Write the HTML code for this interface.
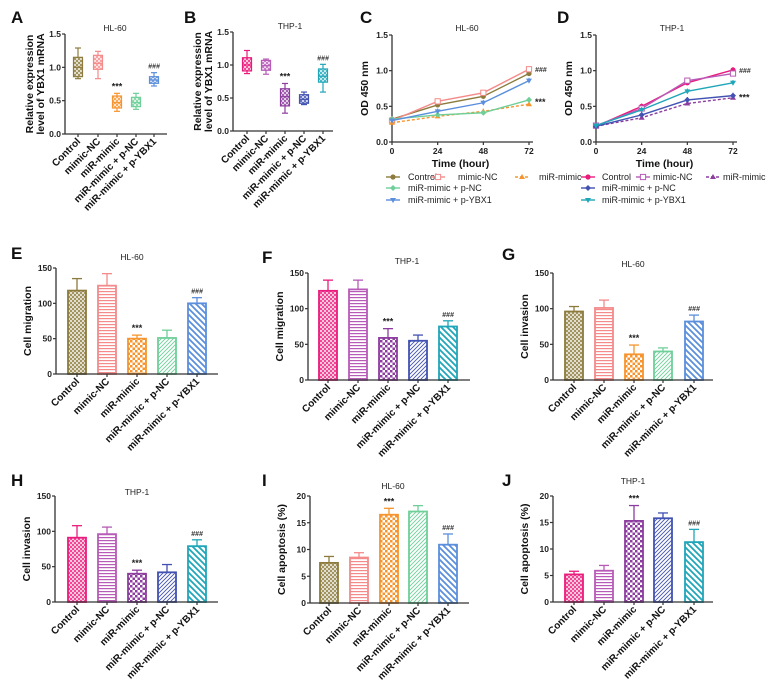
<!DOCTYPE html>
<html><head><meta charset="utf-8">
<style>
html,body{margin:0;padding:0;background:#fff;}
svg{display:block;font-family:"Liberation Sans",Arial,sans-serif;}
</style></head>
<body>
<svg id="fig" width="775" height="694" viewBox="0 0 775 694" xmlns="http://www.w3.org/2000/svg">
<defs id="defs"></defs>
</svg>
<script>
// ---------- data ----------
const categories = ["Control","mimic-NC","miR-mimic","miR-mimic + p-NC","miR-mimic + p-YBX1"];
const hlColors = ["#8c7b3c","#f48a8a","#f6952f","#6fcf99","#5b8fdc"];
const thpColors = ["#ea1b7c","#b75ab8","#8d3d9f","#4252b2","#20a6b9"];
const patternTypes = ["dots","hlines","checker","fdiag","bdiag"];

// box plots [min,q1,median,q3,max]
const boxA = [[0.83,0.86,1.0,1.15,1.29],[0.83,0.97,1.06,1.18,1.24],[0.34,0.39,0.47,0.57,0.61],[0.37,0.41,0.47,0.55,0.61],[0.72,0.76,0.81,0.86,0.92]];
const boxB = [[0.87,0.91,1.0,1.11,1.22],[0.86,0.92,0.99,1.07,1.09],[0.27,0.38,0.52,0.64,0.72],[0.40,0.42,0.48,0.55,0.59],[0.59,0.74,0.83,0.94,1.01]];
const boxTicks = [0,0.5,1.0,1.5];

// growth curves
const timePoints = [0,24,48,72];
const odTicks = [0,0.5,1.0,1.5];
const curveC = [[0.32,0.52,0.64,0.96],[0.30,0.57,0.69,1.02],[0.27,0.36,0.43,0.53],[0.32,0.38,0.41,0.59],[0.30,0.43,0.55,0.86]];
const curveD = [[0.22,0.50,0.83,1.01],[0.23,0.47,0.86,0.96],[0.22,0.34,0.54,0.62],[0.22,0.38,0.59,0.65],[0.23,0.45,0.71,0.83]];

// bar charts
const migE = [118,125,50,51,100], migEErr = [135,142,55,62,108];
const migF = [125,127,59,55,75], migFErr = [140,140,72,63,83];
const invG = [96,101,36,40,82], invGErr = [103,112,49,45,91];
const invH = [91,96,40,42,79], invHErr = [108,106,45,53,88];
const apoI = [7.5,8.5,16.5,17.1,10.9], apoIErr = [8.7,9.4,17.7,18.2,12.9];
const apoJ = [5.2,5.9,15.3,15.8,11.3], apoJErr = [5.8,6.9,18.2,16.8,13.7];
const countTicks = [0,50,100,150];
const pctTicks = [0,5,10,15,20];

// ---------- helpers ----------
const NS="http://www.w3.org/2000/svg";
const svg=document.getElementById('fig');
const defs=document.getElementById('defs');
function mk(tag,attrs,parent){const e=document.createElementNS(NS,tag);for(const k in attrs)e.setAttribute(k,attrs[k]);(parent||svg).appendChild(e);return e;}
function txt(s,attrs,parent){const e=mk('text',attrs,parent);e.textContent=s;return e;}

function makePattern(id,type,color){
  const p=mk('pattern',{id:id,patternUnits:'userSpaceOnUse',width:4,height:4},defs);
  mk('rect',{x:0,y:0,width:4,height:4,fill:'#fff'},p);
  if(type==='dots'){mk('rect',{x:0,y:0,width:2,height:2,fill:color,opacity:0.75},p);mk('rect',{x:2,y:2,width:2,height:2,fill:color,opacity:0.75},p);mk('rect',{x:0,y:0,width:4,height:4,fill:color,opacity:0.25},p);}
  if(type==='hlines'){p.setAttribute('height',3);mk('rect',{x:0,y:0,width:4,height:1.2,fill:color},p);}
  if(type==='checker'){p.setAttribute('width',5);p.setAttribute('height',5);mk('rect',{x:0,y:0,width:2.5,height:2.5,fill:color},p);mk('rect',{x:2.5,y:2.5,width:2.5,height:2.5,fill:color},p);}
  if(type==='fdiag'){mk('path',{d:'M-1,1 l2,-2 M0,4 l4,-4 M3,5 l2,-2',stroke:color,'stroke-width':0.9},p);}
  if(type==='bdiag'){p.setAttribute('width',6);p.setAttribute('height',6);mk('path',{d:'M-1,5 l2,2 M0,0 l6,6 M5,-1 l2,2',stroke:color,'stroke-width':1.8},p);}
}
hlColors.forEach((c,i)=>makePattern('hl'+i,patternTypes[i],c));
thpColors.forEach((c,i)=>makePattern('thp'+i,patternTypes[i],c));
hlColors.forEach((c,i)=>makePattern('hlb'+i,'dots',c));
thpColors.forEach((c,i)=>makePattern('thpb'+i,'dots',c));

function panelLetter(s,x,y){const t=txt(s,{x:x,y:y,'font-size':17,'font-weight':'bold',fill:'#111'});}

function yAxis(g,ax,yScale,ticks,fmt,top,bottom,label,labelX,labelLines){
  mk('line',{x1:ax,y1:top,x2:ax,y2:bottom,stroke:'#333','stroke-width':1.3},g);
  ticks.forEach(t=>{const y=yScale(t);mk('line',{x1:ax-3,y1:y,x2:ax,y2:y,stroke:'#333','stroke-width':1.2},g);
    const e=txt(fmt(t),{x:ax-4,y:y+3,'text-anchor':'end','font-size':8.5,'font-weight':'bold',fill:'#222'},g);
    });
  const cy=(top+bottom)/2;
  const lines=labelLines||[label];
  lines.forEach((l,i)=>{const e=txt(l,{x:0,y:0,'text-anchor':'middle','font-size':10.5,'font-weight':'bold',fill:'#111',transform:`translate(${labelX+i*11},${cy}) rotate(-90)`},g);
    });
}
function catLabels(g,xs,baseY){
  categories.forEach((c,i)=>{
    mk('line',{x1:xs[i],y1:baseY,x2:xs[i],y2:baseY+3,stroke:'#333','stroke-width':1.2},g);
    const e=txt(c,{x:0,y:0,'text-anchor':'end','font-size':10,'font-weight':'bold',fill:'#111',transform:`translate(${xs[i]+3},${baseY+8}) rotate(-45)`},g);
    
  });
}

function boxPanel(name,data,colors,ax,axEnd,yTop,yBot,centers,title,titleX,titleY,letter,lx,ly,prefix){
  const g=mk('g',{});
  const ys=v=>yBot-(v/1.5)*(yBot-yTop);
  yAxis(g,ax,ys,boxTicks,v=>v.toFixed(1),yTop,yBot,null,ax-32,['Relative expression','level of YBX1 mRNA']);
  mk('line',{x1:ax,y1:yBot,x2:axEnd,y2:yBot,stroke:'#333','stroke-width':1.3},g);
  catLabels(g,centers,yBot);
  const t=txt(title,{x:titleX,y:titleY,'text-anchor':'middle','font-size':8.5,fill:'#222'},g);
  data.forEach((d,i)=>{
    const cx=centers[i],w=9,c=colors[i];
    const b=mk('g',{},g);
    mk('line',{x1:cx,y1:ys(d[0]),x2:cx,y2:ys(d[4]),stroke:c,'stroke-width':1.2},b);
    mk('line',{x1:cx-3,y1:ys(d[0]),x2:cx+3,y2:ys(d[0]),stroke:c,'stroke-width':1.2},b);
    mk('line',{x1:cx-3,y1:ys(d[4]),x2:cx+3,y2:ys(d[4]),stroke:c,'stroke-width':1.2},b);
    mk('rect',{x:cx-w/2,y:ys(d[3]),width:w,height:ys(d[1])-ys(d[3]),fill:`url(#${prefix}${i})`,stroke:c,'stroke-width':1.2},b);
    mk('line',{x1:cx-w/2,y1:ys(d[2]),x2:cx+w/2,y2:ys(d[2]),stroke:c,'stroke-width':1.2},b);
  });
  txt('***',{x:centers[2],y:ys(data[2][4])-4,'text-anchor':'middle','font-size':9,'font-weight':'bold',fill:'#222'},g);
  txt('###',{x:centers[4],y:ys(data[4][4])-4,'text-anchor':'middle','font-size':7,'font-style':'italic','font-weight':'bold',fill:'#333'},g);
  panelLetter(letter,lx,ly);
}
boxPanel('chart-a-hl60-box',boxA,hlColors,65,167,34,134,[78,98,117,136,154],'HL-60',115,31,'A',11,23,'hlb');
boxPanel('chart-b-thp1-box',boxB,thpColors,233,333,32,131,[247,266,285,304,323],'THP-1',290,29,'B',184,23,'thpb');

function markerShape(g,type,x,y,c){
  if(type===0) mk('circle',{cx:x,cy:y,r:2.6,fill:c},g);
  else if(type===1) mk('rect',{x:x-2.6,y:y-2.6,width:5.2,height:5.2,fill:'#fff',stroke:c,'stroke-width':1},g);
  else if(type===2) mk('path',{d:`M${x},${y-3} L${x+3},${y+2} L${x-3},${y+2}Z`,fill:c},g);
  else if(type===3) mk('path',{d:`M${x},${y-3} L${x+3},${y} L${x},${y+3} L${x-3},${y}Z`,fill:c},g);
  else mk('path',{d:`M${x-3},${y-2} L${x+3},${y-2} L${x},${y+3}Z`,fill:c},g);
}
function curvePanel(name,data,colors,ax,ticksX,yTop,yBot,title,titleX,letter,lx,legend){
  const g=mk('g',{});
  const ys=v=>yBot-(v/1.5)*(yBot-yTop);
  const xs=t=>ax+(t/72)*(ticksX-ax);
  yAxis(g,ax,ys,odTicks,v=>v.toFixed(1),yTop,yBot,'OD 450 nm',ax-24);
  mk('line',{x1:ax,y1:yBot,x2:xs(72)+4,y2:yBot,stroke:'#333','stroke-width':1.3},g);
  timePoints.forEach(t=>{mk('line',{x1:xs(t),y1:yBot,x2:xs(t),y2:yBot+3,stroke:'#333','stroke-width':1.2},g);
    const e=txt(String(t),{x:xs(t),y:yBot+12,'text-anchor':'middle','font-size':8.5,'font-weight':'bold',fill:'#222'},g);});
  const xt=txt('Time (hour)',{x:(ax+xs(72))/2,y:yBot+25,'text-anchor':'middle','font-size':10.5,'font-weight':'bold',fill:'#111'},g);
  txt(title,{x:titleX,y:31,'text-anchor':'middle','font-size':8.5,fill:'#222'},g);
  data.forEach((s,i)=>{
    const sg=mk('g',{},g);
    const pts=s.map((v,j)=>`${xs(timePoints[j])},${ys(v)}`).join(' ');
    mk('polyline',{points:pts,fill:'none',stroke:colors[i],'stroke-width':1.4,'stroke-dasharray':i===2?'3,2':'none'},sg);
    s.forEach((v,j)=>{mk('line',{x1:xs(timePoints[j]),y1:ys(v),x2:xs(timePoints[j]),y2:ys(v+0.04),stroke:colors[i],'stroke-width':1},sg);markerShape(sg,i,xs(timePoints[j]),ys(v),colors[i]);});
  });
  txt('###',{x:xs(72)+6,y:ys(Math.max(data[0][3],data[1][3]))+3,'font-size':7,'font-style':'italic','font-weight':'bold',fill:'#333'},g);
  txt('***',{x:xs(72)+6,y:ys(Math.max(data[2][3],data[3][3]))+5,'font-size':9,'font-weight':'bold',fill:'#222'},g);
  legend.forEach(l=>{
    const lg=mk('g',{},g);
    mk('line',{x1:l.x-7,y1:l.y,x2:l.x+7,y2:l.y,stroke:colors[l.i],'stroke-width':1.4,'stroke-dasharray':l.i===2?'3,2':'none'},lg);
    markerShape(lg,l.i,l.x,l.y,colors[l.i]);
    txt(categories[l.i],{x:l.tx,y:l.y+3,'font-size':9,fill:'#222'},lg);
  });
  panelLetter(letter,lx,23);
}
curvePanel('chart-c-hl60-growth',curveC,hlColors,392,529,35,142,'HL-60',467,'C',360,
  [{i:0,x:393,tx:408,y:177},{i:1,x:438,tx:458,y:177},{i:2,x:522,tx:539,y:177},{i:3,x:393,tx:408,y:188},{i:4,x:393,tx:408,y:200}]);
curvePanel('chart-d-thp1-growth',curveD,thpColors,596,733,35,142,'THP-1',672,'D',557,
  [{i:0,x:588,tx:602,y:177},{i:1,x:643,tx:653,y:177},{i:2,x:713,tx:723,y:177},{i:3,x:588,tx:602,y:188},{i:4,x:588,tx:602,y:200}]);

function barPanel(name,vals,errs,colors,prefix,ax,axEnd,yTop,yBot,maxV,ticks,centers,ylabel,title,titleX,titleY,letter,lx,ly){
  const g=mk('g',{});
  const ys=v=>yBot-(v/maxV)*(yBot-yTop);
  yAxis(g,ax,ys,ticks,v=>String(v),yTop,yBot,ylabel,ax-25);
  const t=txt(title,{x:titleX,y:titleY,'text-anchor':'middle','font-size':8.5,fill:'#222'},g);
  vals.forEach((v,i)=>{
    const cx=centers[i],w=18,c=colors[i];
    const b=mk('g',{},g);
    mk('line',{x1:cx,y1:ys(v),x2:cx,y2:ys(errs[i]),stroke:c,'stroke-width':1.3},b);
    mk('line',{x1:cx-5,y1:ys(errs[i]),x2:cx+5,y2:ys(errs[i]),stroke:c,'stroke-width':1.3},b);
    mk('rect',{x:cx-w/2,y:ys(v),width:w,height:yBot-ys(v),fill:`url(#${prefix}${i})`,stroke:c,'stroke-width':1.8},b);
  });
  mk('line',{x1:ax,y1:yBot,x2:axEnd,y2:yBot,stroke:'#333','stroke-width':1.3},g);
  catLabels(g,centers,yBot);
  txt('***',{x:centers[2],y:ys(errs[2])-4,'text-anchor':'middle','font-size':9,'font-weight':'bold',fill:'#222'},g);
  txt('###',{x:centers[4],y:ys(errs[4])-4,'text-anchor':'middle','font-size':7,'font-style':'italic','font-weight':'bold',fill:'#333'},g);
  panelLetter(letter,lx,ly);
}
barPanel('chart-e-hl60-migration',migE,migEErr,hlColors,'hl',56,218,268,374,150,countTicks,[77,107,137,167,197],'Cell migration','HL-60',132,260,'E',11,259);
barPanel('chart-f-thp1-migration',migF,migFErr,thpColors,'thp',308,470,273,380,150,countTicks,[328,358,388,418,448],'Cell migration','THP-1',407,264,'F',262,263);
barPanel('chart-g-hl60-invasion',invG,invGErr,hlColors,'hl',553,713,273,380,150,countTicks,[574,604,634,663,694],'Cell invasion','HL-60',633,267,'G',502,260);
barPanel('chart-h-thp1-invasion',invH,invHErr,thpColors,'thp',55,218,496,602,150,countTicks,[77,107,137,167,197],'Cell invasion','THP-1',137,495,'H',11,486);
barPanel('chart-i-hl60-apoptosis',apoI,apoIErr,hlColors,'hl',310,469,496,603,20,pctTicks,[329,359,389,418,448],'Cell apoptosis (%)','HL-60',393,489,'I',262,486);
barPanel('chart-j-thp1-apoptosis',apoJ,apoJErr,thpColors,'thp',553,713,496,602,20,pctTicks,[574,604,634,663,694],'Cell apoptosis (%)','THP-1',633,484,'J',502,486);
</script>
</body></html>
